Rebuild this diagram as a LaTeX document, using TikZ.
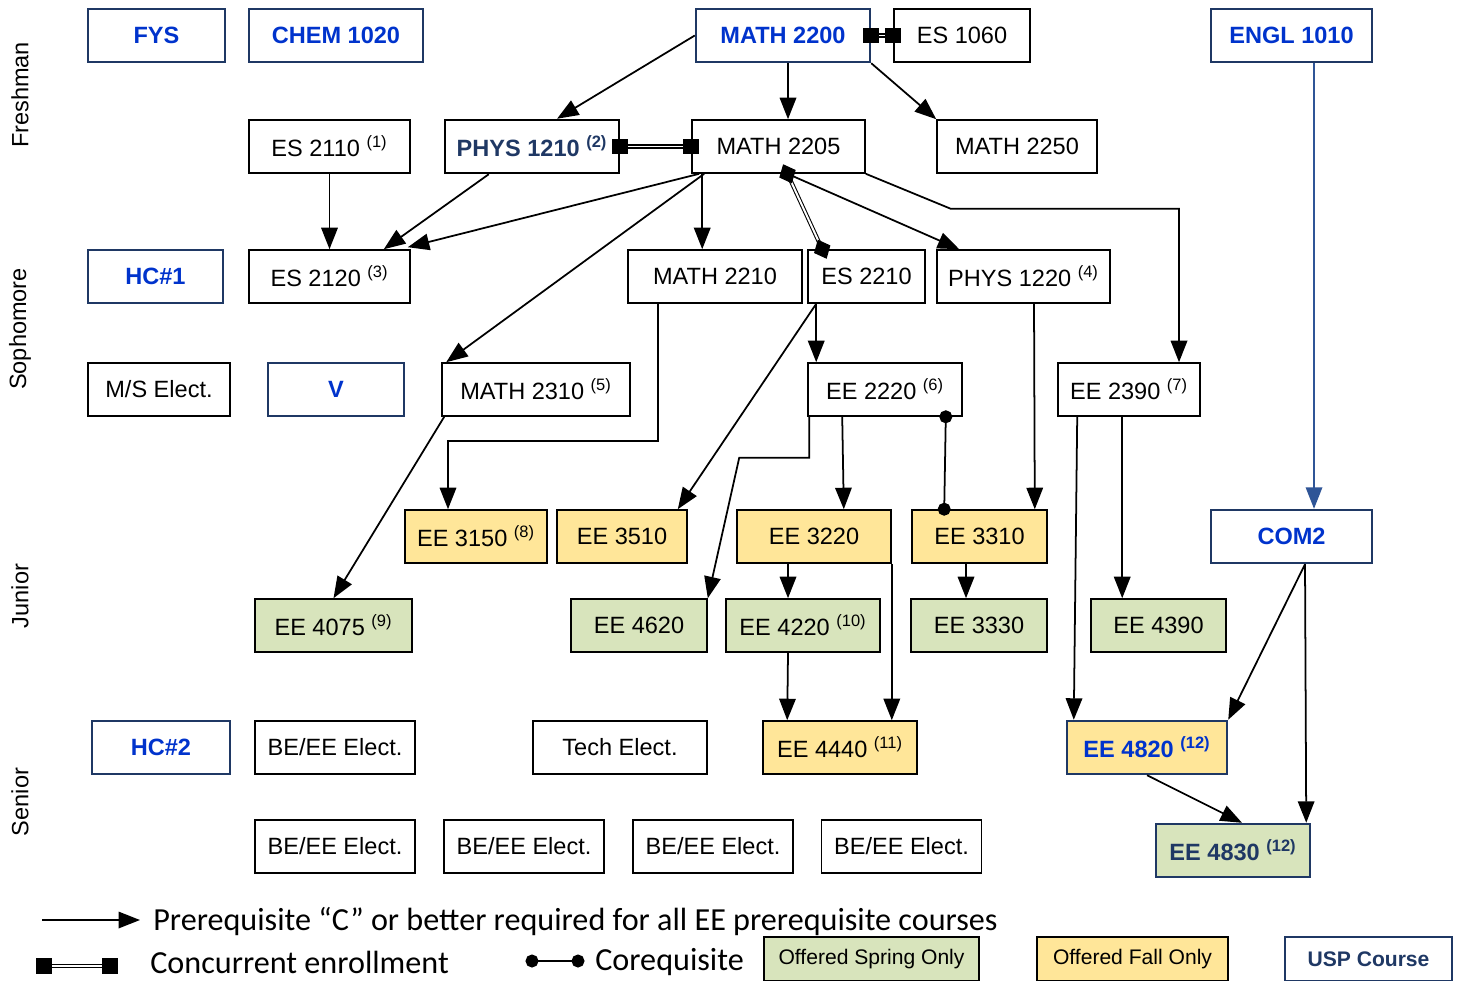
\documentclass[tikz,border=0pt]{standalone}
\usepackage{fontspec}
\setmainfont{Liberation Sans}
\newfontfamily\legendfont{Carlito}
\usetikzlibrary{arrows.meta,calc}
\definecolor{uspblue}{RGB}{0,51,204}
\definecolor{uspnavy}{RGB}{31,56,100}
\definecolor{fallfill}{RGB}{255,230,153}
\definecolor{springfill}{RGB}{216,228,188}
\definecolor{englblue}{RGB}{47,85,151}
\newcommand\boxfont{\fontsize{13.4}{16}\selectfont}
\newcommand\legboxfont{\fontsize{12}{14}\selectfont}
\newcommand\cnote[1]{\textsuperscript{(#1)}}
\tikzset{
  course/.style={draw, line width=0.9pt, minimum height=1.06cm, inner sep=0pt, font=\boxfont},
  usp/.style={course, draw=uspnavy, line width=1.4pt, text=uspblue, font=\boxfont\bfseries},
  fall/.style={fill=fallfill},
  spring/.style={fill=springfill},
  wd/.style={minimum width=#1*0.02cm},
  pre/.style={-{Triangle[length=0.43cm,width=0.33cm]}, line width=1pt},
  concur/.style={{Square[length=0.32cm,width=0.32cm]}-{Square[length=0.32cm,width=0.32cm]},
    double, double distance=1.1pt, line width=0.6pt, shorten <=-0.16cm, shorten >=-0.16cm},
  coconcur/.style={{Diamond[length=0.42cm,width=0.36cm]}-{Diamond[length=0.42cm,width=0.36cm]},
    double, double distance=1.1pt, line width=0.6pt, shorten <=-0.21cm, shorten >=-0.21cm},
  coreq/.style={{Circle[length=0.26cm]}-{Circle[length=0.26cm]}, line width=1pt,
    shorten <=-0.13cm, shorten >=-0.13cm},
  year/.style={rotate=90, font=\boxfont},
  legtext/.style={anchor=base west, inner sep=0pt, font=\legendfont\fontsize{18.3}{20}\selectfont},
}
\begin{document}
\begin{tikzpicture}[x=0.02cm,y=-0.02cm]
\useasboundingbox (0,0) rectangle (1462,980);
% years
\node[year] (fresh) at (20,95) {Freshman};
\node[year] (soph) at (20,329) {Sophomore};
\node[year] (jun) at (20,596) {Junior};
\node[year] (sen) at (20,802) {Senior};
% freshman
\node[usp,wd=137] (fys) at (156.5,35.5) {FYS};
\node[usp,wd=174] (chem) at (336,35.5) {CHEM 1020};
\node[usp,wd=174] (m2200) at (783,35.5) {MATH 2200};
\node[course,wd=136] (es1060) at (962,35.5) {ES 1060};
\node[usp,wd=161] (engl) at (1291.5,35.5) {ENGL 1010};
\node[course,wd=161] (es2110) at (329.5,146.5) {ES 2110 \cnote{1}};
\node[course,wd=174,line width=1.4pt,text=uspnavy,font=\boxfont\bfseries] (ph1210) at (532,146.5) {PHYS 1210 \cnote{2}};
\node[course,wd=173] (m2205) at (778.5,146.5) {MATH 2205};
\node[course,wd=160] (m2250) at (1017,146.5) {MATH 2250};
% sophomore
\node[usp,wd=135] (hc1) at (155.5,276.5) {HC\#1};
\node[course,wd=161] (es2120) at (329.5,276.5) {ES 2120 \cnote{3}};
\node[course,wd=174] (m2210) at (715,276.5) {MATH 2210};
\node[course,wd=117] (es2210) at (866.5,276.5) {ES 2210};
\node[course,wd=173] (ph1220) at (1023.5,276.5) {PHYS 1220 \cnote{4}};
\node[course,wd=142] (mselect) at (159,389.5) {M/S Elect.};
\node[usp,wd=136] (v) at (336,389.5) {V};
\node[course,wd=188] (m2310) at (536,389.5) {MATH 2310 \cnote{5}};
\node[course,wd=154] (ee2220) at (885,389.5) {EE 2220 \cnote{6}};
\node[course,wd=142] (ee2390) at (1129,389.5) {EE 2390 \cnote{7}};
% junior
\node[course,fall,wd=142] (ee3150) at (476,536.5) {EE 3150 \cnote{8}};
\node[course,fall,wd=130] (ee3510) at (622,536.5) {EE 3510};
\node[course,fall,wd=154] (ee3220) at (814,536.5) {EE 3220};
\node[course,fall,wd=135] (ee3310) at (979.5,536.5) {EE 3310};
\node[usp,wd=161] (com2) at (1291.5,536.5) {COM2};
\node[course,spring,wd=157] (ee4075) at (333.5,625.5) {EE 4075 \cnote{9}};
\node[course,spring,wd=136] (ee4620) at (639,625.5) {EE 4620};
\node[course,spring,wd=154] (ee4220) at (803,625.5) {EE 4220 \cnote{10}};
\node[course,spring,wd=136] (ee3330) at (979,625.5) {EE 3330};
\node[course,spring,wd=135] (ee4390) at (1158.5,625.5) {EE 4390};
% senior
\node[usp,wd=138] (hc2) at (161,747.5) {HC\#2};
\node[course,wd=160] (beee1) at (335,747.5) {BE/EE Elect.};
\node[course,wd=174] (tech) at (620,747.5) {Tech Elect.};
\node[course,fall,wd=154] (ee4440) at (840,747.5) {EE 4440 \cnote{11}};
\node[usp,fall,wd=160] (ee4820) at (1147,747.5) {EE 4820 \cnote{12}};
\foreach \i/\x in {2/335,3/524,4/713,5/901.5}
  \node[course,wd=160] (beee\i) at (\x,846.5) {BE/EE Elect.};
\node[usp,spring,wd=154,text=uspnavy] (ee4830) at (1233,850.5) {EE 4830 \cnote{12}};
% prerequisites
\draw[pre] (m2200.west) -- ($(ph1210.north)+(25,0)$);
\draw[pre] ($(m2200.south)+(5,0)$) -- ($(m2205.north)+(9.5,0)$);
\draw[pre] (m2200.south east) -- (m2250.north west);
\draw[concur] (m2200.east) -- (es1060.west);
\draw[concur] (ph1210.east) -- (m2205.west);
\draw[pre] (es2110.south) -- (es2120.north);
\draw[pre] ($(ph1210.south west)+(45,0)$) -- ($(es2120.north east)+(-27,0)$);
\draw[pre] ($(m2205.south west)+(8,0)$) -- ($(es2120.north east)+(-3,-2)$);
\draw[pre] ($(m2205.south west)+(13,0)$) -- ($(m2310.north west)+(5,0)$);
\draw[pre] ($(m2205.south west)+(11,0)$) -- ($(m2210.north west)+(75,0)$);
\draw[coconcur] ($(m2205.south)+(9,0)$) -- ($(es2210.north west)+(15,0)$);
\draw[pre] ($(m2205.south)+(9,0)$) -- ($(ph1220.north west)+(23,0)$);
\draw[pre] (m2205.south east) -- ++(85,35) -| ($(ee2390.north)+(50,0)$);
\draw[pre] ($(m2210.south)+(-57,0)$) -- ++(0,137) -| ($(ee3150.north)+(-28,0)$);
\draw[pre] ($(es2210.south west)+(9,0)$) -- ($(ee2220.north west)+(9,0)$);
\draw[pre] ($(es2210.south west)+(9,0)$) -- ($(ee3510.north east)+(-10,0)$);
\draw[pre] ($(ph1220.south)+(10.5,0)$) -- ($(ee3310.north east)+(-13,0)$);
\draw[pre] ($(m2310.south west)+(3,0)$) -- (ee4075.north);
\draw[pre] ($(ee2220.south west)+(2,0)$) -- ++(0,41) -- ++(-70,0) -- (ee4620.north east);
\draw[pre] ($(ee2220.south west)+(35,0)$) -- ($(ee3220.north east)+(-48,0)$);
\draw[coreq] ($(ee2220.south east)+(-17,0)$) -- ($(ee3310.north west)+(33,0)$);
\draw[pre] ($(ee3220.south)+(-26,0)$) -- ($(ee4220.north)+(-15,0)$);
\draw[pre] (ee3220.south east) -- ($(ee4440.north east)+(-26,0)$);
\draw[pre] ($(ee3310.south)+(-13.5,0)$) -- ($(ee3330.north)+(-13,0)$);
\draw[pre] ($(ee4220.south)+(-15,0)$) -- ($(ee4440.north west)+(25,0)$);
\draw[pre] ($(ee2390.south west)+(20,0)$) -- ($(ee4820.north west)+(8,0)$);
\draw[pre] ($(ee2390.south west)+(65,0)$) -- ($(ee4390.north west)+(32,0)$);
\draw[pre,englblue] ($(engl.south)+(22.5,0)$) -- ($(com2.north)+(22.5,0)$);
\draw[pre] ($(com2.south)+(13.5,0)$) -- (ee4820.north east);
\draw[pre] ($(com2.south)+(13.5,0)$) -- ($(ee4830.north east)+(-5,0)$);
\draw[pre] (ee4820.south) -- ($(ee4830.north)+(9,0)$);
% legend
\coordinate (lpa) at (42,920);
\coordinate (lpb) at (140,920);
\draw[pre] (lpa) -- (lpb);
\node[legtext] (lpre) at (153,930) {Prerequisite “C” or better required for all EE prerequisite courses};
\coordinate (lca) at (44,966);
\coordinate (lcb) at (110,966);
\draw[concur] (lca) -- (lcb);
\node[legtext] (lconc) at (150,973) {Concurrent enrollment};
\coordinate (lra) at (532,961);
\coordinate (lrb) at (578,961);
\draw[coreq] (lra) -- (lrb);
\node[legtext] (lcoreq) at (595,970) {Corequisite};
\node[course,spring,wd=215,minimum height=0.88cm,font=\legboxfont] (lspring) at (871.5,959) {Offered Spring Only};
\node[course,fall,wd=191,minimum height=0.88cm,font=\legboxfont] (lfall) at (1132.5,959) {Offered Fall Only};
\node[usp,wd=167,minimum height=0.88cm,text=uspnavy,font=\legboxfont\bfseries] (lusp) at (1368.5,959) {USP Course};
\end{tikzpicture}
\end{document}
